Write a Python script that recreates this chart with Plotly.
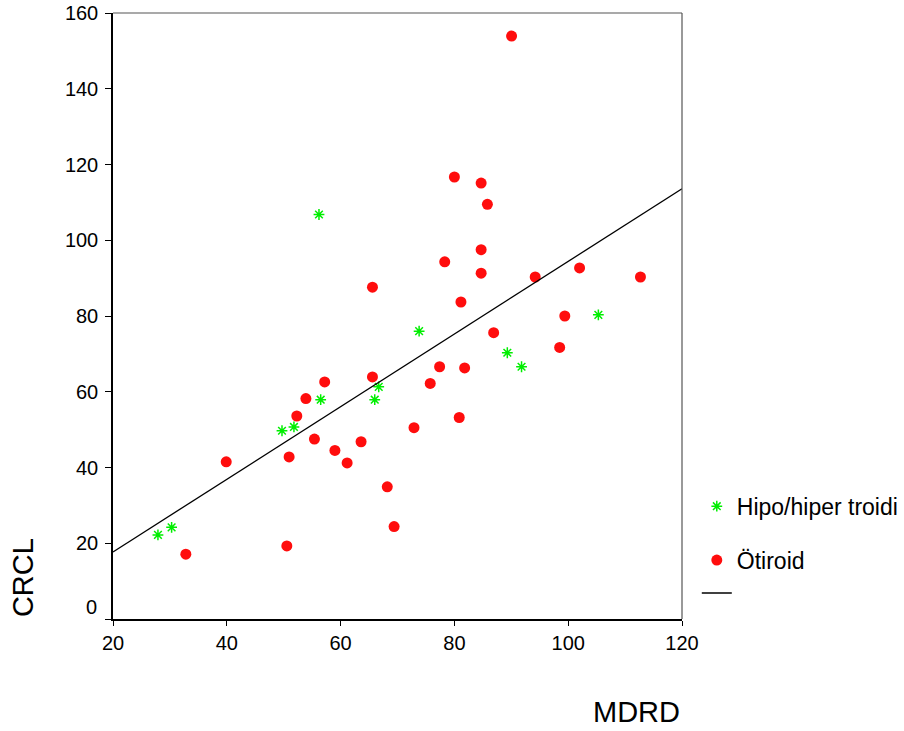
import plotly.graph_objects as go

# Hipo/hiper troidi (green stars)
hipo_mdrd = [56.2, 49.7, 51.8, 56.5, 66.7, 66.0, 73.8, 89.3, 91.8, 105.3, 27.9, 30.3]
hipo_crcl = [106.8, 49.7, 50.7, 57.9, 61.3, 57.9, 76.0, 70.3, 66.6, 80.3, 22.2, 24.2]

# Ötiroid (red circles)
oti_mdrd = [90.05, 80.0, 84.7, 85.8, 84.7, 78.3, 84.7, 94.2, 102.0, 112.7,
            81.15, 99.4, 86.9, 98.5, 77.4, 81.8, 75.75, 80.85, 72.9, 65.6,
            65.6, 57.2, 53.9, 52.3, 55.4, 59.0, 63.6, 61.15, 50.95, 39.9,
            68.2, 69.4, 50.55, 32.8]
oti_crcl = [153.9, 116.7, 115.1, 109.5, 97.5, 94.3, 91.3, 90.3, 92.7, 90.3,
            83.7, 80.0, 75.6, 71.7, 66.6, 66.3, 62.2, 53.2, 50.5, 87.6,
            63.9, 62.6, 58.2, 53.6, 47.5, 44.5, 46.8, 41.2, 42.8, 41.5,
            34.9, 24.4, 19.3, 17.1]

# Fit line
fit_x = [20, 120]
fit_y = [17.7, 113.6]

x_ticks = [20, 40, 60, 80, 100, 120]
y_ticks = [0, 20, 40, 60, 80, 100, 120, 140, 160]
y_ticktext = ["", "20", "40", "60", "80", "100", "120", "140", "160"]

FONT = "Liberation Sans, Arial, sans-serif"

fig = go.Figure()
fig.add_trace(go.Scatter(
    x=hipo_mdrd, y=hipo_crcl, mode="markers", name="Hipo/hiper troidi",
    legendgroup="a",
    marker=dict(symbol="asterisk-open", size=9, color="#00ee00",
                line=dict(color="#00ee00", width=1.5)),
))
fig.add_trace(go.Scatter(
    x=oti_mdrd, y=oti_crcl, mode="markers", name="Ötiroid",
    legendgroup="b",
    marker=dict(symbol="circle", size=11, color="#ff0d0d", line=dict(width=0)),
))
fig.add_trace(go.Scatter(
    x=fit_x, y=fit_y, mode="lines", name=" ", legendgroup="b",
    line=dict(color="black", width=1.3),
))

fig.update_layout(
    width=904, height=731,
    margin=dict(l=113, r=222, t=13, b=112, autoexpand=False),
    paper_bgcolor="white", plot_bgcolor="white",
    font=dict(family=FONT, size=20, color="black"),
    showlegend=True,
    legend=dict(x=1.026, xanchor="left", y=0.2215, yanchor="top",
                font=dict(size=23, family=FONT), traceorder="grouped",
                tracegroupgap=21, bgcolor="rgba(0,0,0,0)"),
    xaxis=dict(range=[20, 120], tickvals=x_ticks, ticks="outside", ticklen=5,
               tickcolor="black", showline=True, linecolor="black", linewidth=1.5,
               showgrid=False, zeroline=False, tickfont=dict(size=20),
               automargin=False, ticklabeloverflow="allow"),
    yaxis=dict(range=[0, 160], tickvals=y_ticks, ticktext=y_ticktext,
               ticks="outside", ticklen=6, tickcolor="black",
               showline=True, linecolor="black", linewidth=1.5,
               showgrid=False, zeroline=False, tickfont=dict(size=20),
               ticklabelstandoff=3, automargin=False, ticklabeloverflow="allow"),
    shapes=[
        dict(type="line", xref="paper", yref="paper", x0=0, x1=1, y0=1, y1=1,
             line=dict(color="#555555", width=1.2)),
        dict(type="line", xref="paper", yref="paper", x0=1, x1=1, y0=0, y1=1,
             line=dict(color="#555555", width=1.2)),
    ],
    annotations=[
        dict(text="CRCL", xref="paper", yref="paper", x=-0.158, y=0.0677,
             textangle=-90, showarrow=False, font=dict(size=29, family=FONT),
             xanchor="center", yanchor="middle"),
        dict(text="MDRD", xref="paper", yref="paper", x=0.92, y=-0.153,
             showarrow=False, font=dict(size=29, family=FONT),
             xanchor="center", yanchor="middle"),
        dict(text="0", xref="paper", yref="paper", x=-0.024, y=0.02,
             showarrow=False, font=dict(size=20, family=FONT),
             xanchor="right", yanchor="middle"),
    ],
)

# remove the default page margin so the 904x731 figure fills the window exactly
fig.write_html("out.html", config={"displayModeBar": False},
               post_script="document.body.style.margin='0';")
